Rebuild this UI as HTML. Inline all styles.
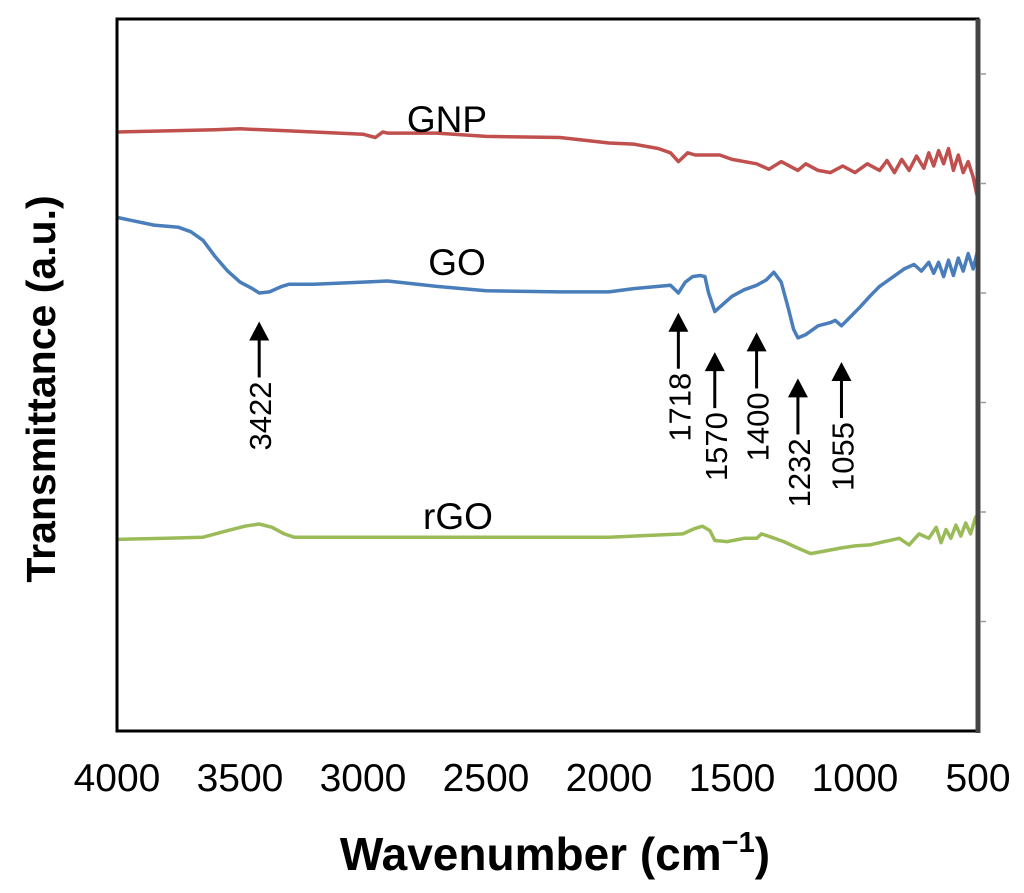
<!DOCTYPE html>
<html><head><meta charset="utf-8">
<style>
body{margin:0;background:#fff;}
svg{display:block;font-family:"Liberation Sans",Arial,sans-serif;}
</style></head>
<body>
<svg id="chart" width="1024" height="893" viewBox="0 0 1024 893">
<rect x="0" y="0" width="1024" height="893" fill="#fff"/>
<g id="series"></g>
<g id="annots"></g>
<rect x="117" y="19" width="861" height="712" fill="none" stroke="#000" stroke-width="3"/>
<line x1="978" y1="19" x2="978" y2="733" stroke="#444" stroke-width="5"/>
<g id="xticks"></g>
<g id="yticks"></g>
<text x="555" y="870" text-anchor="middle" font-size="46" font-weight="bold">Wavenumber (cm<tspan font-size="29" dy="-18">−1</tspan><tspan dy="18">)</tspan></text>
<text transform="translate(55,389) rotate(-90)" text-anchor="middle" font-size="41" font-weight="bold">Transmittance (a.u.)</text>
<text x="447" y="132" text-anchor="middle" font-size="37">GNP</text>
<text x="457" y="275" text-anchor="middle" font-size="37">GO</text>
<text x="458" y="529" text-anchor="middle" font-size="37">rGO</text>
</svg>
<script>
// data
const xTicks = [4000,3500,3000,2500,2000,1500,1000,500];
const yTicks = [1,2,3,4,5,6];
const gnpWn = [4000,3800,3600,3500,3300,3000,2950,2920,2900,2700,2500,2200,2000,1900,1800,1750,1718,1680,1650,1550,1500,1400,1350,1300,1232,1200,1150,1100,1050,1000,950,900,870,840,810,780,750,720,700,680,660,640,620,600,580,560,540,520,505,500];
const gnpT = [5.47,5.48,5.49,5.50,5.48,5.45,5.42,5.47,5.46,5.46,5.43,5.42,5.37,5.36,5.32,5.28,5.20,5.28,5.26,5.26,5.22,5.18,5.13,5.20,5.12,5.18,5.12,5.10,5.16,5.10,5.18,5.12,5.21,5.10,5.22,5.12,5.25,5.14,5.28,5.16,5.30,5.18,5.32,5.12,5.26,5.10,5.20,5.06,4.90,5.00];
const goWn = [4000,3850,3750,3700,3650,3600,3550,3500,3450,3422,3380,3330,3300,3200,3000,2900,2700,2500,2200,2000,1900,1800,1750,1718,1690,1660,1630,1610,1595,1570,1545,1500,1450,1400,1360,1330,1300,1270,1250,1232,1200,1150,1100,1080,1055,1020,980,940,900,850,800,760,730,700,680,660,640,620,600,580,560,540,520,500];
const goT = [4.69,4.62,4.60,4.56,4.48,4.33,4.20,4.10,4.04,4.00,4.01,4.06,4.08,4.08,4.10,4.11,4.06,4.02,4.01,4.01,4.04,4.06,4.07,4.00,4.10,4.15,4.16,4.15,4.00,3.83,3.88,3.97,4.03,4.07,4.12,4.19,4.10,3.85,3.67,3.59,3.62,3.70,3.73,3.75,3.70,3.78,3.87,3.97,4.06,4.14,4.22,4.26,4.20,4.28,4.18,4.28,4.15,4.30,4.16,4.32,4.20,4.36,4.22,4.40];
const rgoWn = [4000,3800,3650,3550,3480,3422,3370,3320,3280,3000,2500,2000,1800,1700,1650,1620,1590,1570,1520,1450,1400,1380,1340,1290,1232,1180,1130,1060,1000,940,880,820,780,740,700,670,650,630,610,590,570,550,530,510,500];
const rgoT = [1.75,1.76,1.77,1.83,1.87,1.89,1.86,1.80,1.77,1.77,1.77,1.77,1.79,1.80,1.85,1.87,1.83,1.74,1.73,1.76,1.76,1.80,1.77,1.73,1.67,1.62,1.64,1.67,1.69,1.70,1.73,1.76,1.70,1.80,1.76,1.86,1.72,1.84,1.76,1.88,1.78,1.90,1.80,1.95,1.98];
const peaks = [3422,1718,1570,1400,1232,1055];
const peakTip = [3.74,3.82,3.46,3.64,3.22,3.37];

const X0=117,X1=978,Y0=731,UNIT=109.5;
const xs = w => X0 + (4000-w)/3500*(X1-X0);
const ys = v => Y0 - v*UNIT;
const NS='http://www.w3.org/2000/svg';
function mk(tag,attrs,parent){const e=document.createElementNS(NS,tag);for(const k in attrs)e.setAttribute(k,attrs[k]);parent.appendChild(e);return e;}

const sg=document.getElementById('series');
function drawSeries(wn,t,color,name){
  const d=wn.map((w,i)=>(i?'L':'M')+xs(w).toFixed(1)+','+ys(t[i]).toFixed(1)).join(' ');
  const p=mk('path',{d:d,fill:'none',stroke:color,'stroke-width':3.5,'stroke-linejoin':'round'},sg);
  
  
}
drawSeries(gnpWn,gnpT,'#c0504d','series-gnp');
drawSeries(goWn,goT,'#4a7ebb','series-go');
drawSeries(rgoWn,rgoT,'#9bbb59','series-rgo');

const xg=document.getElementById('xticks');
xTicks.forEach(v=>{
  const t=mk('text',{x:xs(v),y:791,'text-anchor':'middle','font-size':39},xg);
  t.textContent=v;
  
  
});
const yg=document.getElementById('yticks');
yTicks.forEach(v=>{
  const l=mk('line',{x1:980,x2:986,y1:ys(v),y2:ys(v),stroke:'#999','stroke-width':1.5},yg);
  
  
});

const ag=document.getElementById('annots');
peaks.forEach((p,i)=>{
  const x=xs(p), tip=ys(peakTip[i]);
  const g=mk('g',{},ag);
  
  
  mk('polygon',{points:`${x},${tip} ${x-10},${tip+19} ${x+10},${tip+19}`,fill:'#000'},g);
  mk('line',{x1:x,x2:x,y1:tip+17,y2:tip+56,stroke:'#000','stroke-width':3},g);
  const t=mk('text',{transform:`translate(${x+12},${tip+60}) rotate(-90)`,'text-anchor':'end','font-size':31},g);
  t.textContent=p;
});
</script>
</body></html>
